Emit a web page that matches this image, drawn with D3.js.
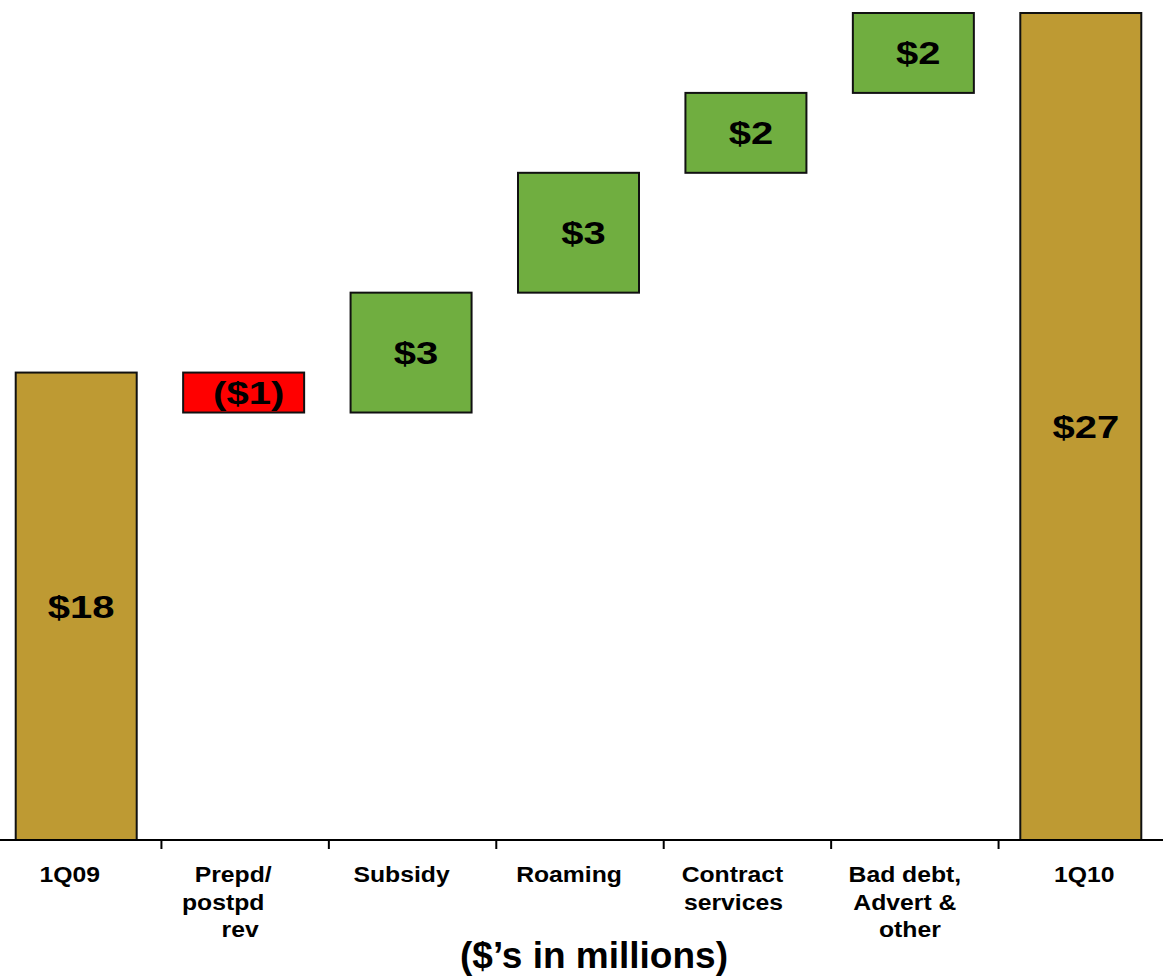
<!DOCTYPE html>
<html><head><meta charset="utf-8">
<script src="https://cdn.jsdelivr.net/npm/d3@7"></script>
<style>body{margin:0;background:#fff}svg{display:block}</style>
</head><body><svg id="chart" width="1163" height="980"></svg>
<script>
// Operating income bridge, 1Q09 -> 1Q10 ($ millions)
const categories = ["1Q09", "Prepd/ postpd rev", "Subsidy", "Roaming", "Contract services", "Bad debt, Advert & other", "1Q10"];
const labelLines = [["1Q09"], ["Prepd/", "postpd", "rev"], ["Subsidy"], ["Roaming"], ["Contract", "services"], ["Bad debt,", "Advert &", "other"], ["1Q10"]];
const startValue = 18;
const changes = [-1, 3, 3, 2, 2];
const endValue = 27;
const valueLabels = ["$18", "($1)", "$3", "$3", "$2", "$2", "$27"];
const axisFloor = 6.3;   // value axis is cut below this level

const W = 1163, H = 980;
const svg = d3.select("#chart");
const FONT = "'Liberation Sans', Arial, Helvetica, sans-serif";

// build waterfall segments
const segs = [];
segs.push({ cat: categories[0], y0: axisFloor, y1: startValue, kind: "total" });
let run = startValue;
changes.forEach((c, i) => {
  segs.push({ cat: categories[i + 1], y0: run, y1: run + c, kind: c < 0 ? "down" : "up" });
  run += c;
});
segs.push({ cat: categories[categories.length - 1], y0: axisFloor, y1: endValue, kind: "total" });
segs.forEach((s, i) => s.label = valueLabels[i]);

const x = d3.scaleBand().domain(categories).range([-6, 1166]).padding(0);
const y = d3.scaleLinear().domain([axisFloor, 27]).range([840, 13]);
const barW = 121;
const cx = c => x(c) + x.bandwidth() / 2 - 1.5;

const fill = { total: "#BE9A33", up: "#70AE40", down: "#FF0000" };

svg.append("g").selectAll("rect").data(segs).join("rect")
  .attr("x", d => cx(d.cat) - barW / 2)
  .attr("width", barW)
  .attr("y", d => y(Math.max(d.y0, d.y1)))
  .attr("height", d => Math.abs(y(d.y0) - y(d.y1)))
  .attr("fill", d => fill[d.kind])
  .attr("stroke", "#111")
  .attr("stroke-width", 2);

// value labels
svg.append("g").selectAll("text").data(segs).join("text")
  .attr("transform", d => `translate(${cx(d.cat) + 5},${(y(d.y0) + y(d.y1)) / 2 + 11.5}) scale(1.25,1)`)
  .attr("text-anchor", "middle")
  .attr("font-family", FONT)
  .attr("font-weight", "bold")
  .attr("font-size", 32)
  .attr("fill", "#000")
  .text(d => d.label);

// category axis
const axisY = y(axisFloor);
svg.append("line").attr("x1", 0).attr("x2", W).attr("y1", axisY).attr("y2", axisY)
  .attr("stroke", "#000").attr("stroke-width", 2);
svg.append("g").selectAll("line").data(categories.slice(1)).join("line")
  .attr("x1", d => x(d)).attr("x2", d => x(d))
  .attr("y1", axisY).attr("y2", axisY + 9)
  .attr("stroke", "#000").attr("stroke-width", 2);

const catNudge = [-8, -12, -11, -11, -15, -10, 2];
const lineNudge = { "postpd": -10, "rev": 7, "services": 1, "other": 5 };
const catG = svg.append("g");
categories.forEach((c, i) => {
  labelLines[i].forEach((ln, j) => {
    catG.append("text")
      .attr("transform", `translate(${x(c) + x.bandwidth() / 2 + catNudge[i] + (lineNudge[ln] || 0)},${882 + j * 27.5}) scale(1.15,1)`)
      .attr("text-anchor", "middle")
      .attr("font-family", FONT)
      .attr("font-weight", "bold")
      .attr("font-size", 21.5)
      .attr("fill", "#000")
      .text(ln);
  });
});

svg.append("text")
  .attr("x", 594).attr("y", 968)
  .attr("text-anchor", "middle")
  .attr("font-family", FONT)
  .attr("font-weight", "bold")
  .attr("font-size", 37)
  .attr("fill", "#000")
  .text("($\u2019s in millions)");
</script>
</body></html>
